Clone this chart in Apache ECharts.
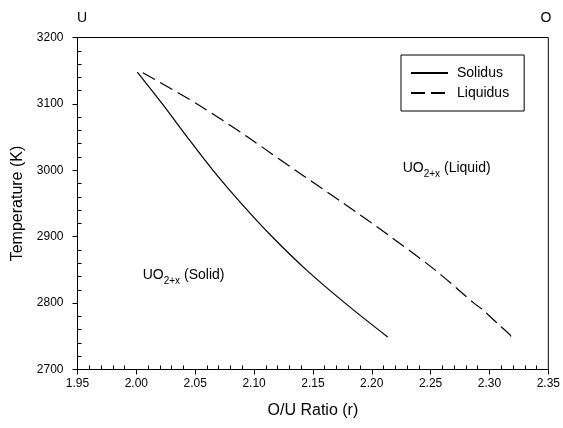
<!DOCTYPE html>
<html>
<head>
<meta charset="utf-8">
<script src="https://cdn.jsdelivr.net/npm/echarts@6/dist/echarts.min.js"></script>
<style>
  html, body { margin: 0; padding: 0; background: #fff; }
  #chart { width: 563px; height: 428px; }
</style>
</head>
<body>
<div id="chart"></div>
<script>
// O/U ratio vs temperature
const solidusR = [2.0008, 2.0221, 2.0432, 2.0651, 2.0887, 2.1148, 2.1444, 2.1773, 2.2135];
const solidusT = [3148, 3100, 3050, 3000, 2951, 2901, 2850, 2800, 2749];

const liquidusR = [2.0055, 2.0516, 2.0946, 2.1351, 2.1755, 2.2152, 2.2537, 2.2868, 2.2936, 2.3088, 2.3175, 2.3189];
const liquidusT = [3147, 3100, 3050, 3000, 2951, 2901, 2850, 2800, 2791, 2766, 2752, 2744];

const xTicks = { min: 1.95, max: 2.35, step: 0.05 };
const yTicks = { min: 2700, max: 3200, step: 100 };

const font = 'Liberation Sans, Arial, sans-serif';

const chart = echarts.init(document.getElementById('chart'));

const axisCommon = {
  axisLine: { show: true, lineStyle: { color: '#000', width: 1 } },
  axisTick: { show: true, inside: false, length: 5, lineStyle: { color: '#000' } },
  minorTick: { show: true, splitNumber: 5, length: -4, lineStyle: { color: '#000' } },
  splitLine: { show: false },
  axisLabel: { color: '#000', fontSize: 12, fontFamily: font },
  nameTextStyle: { color: '#000', fontSize: 16, fontFamily: font },
};

const subLabel = (x, y, tail) => ({
  type: 'text', x, y,
  style: {
    text: '{m|UO}{s|2+x}{m|' + tail + '}',
    align: 'left', verticalAlign: 'middle', fill: '#000',
    rich: {
      m: { fontSize: 14, fontFamily: font, fill: '#000' },
      s: { fontSize: 10, fontFamily: font, fill: '#000', padding: [12, 0, 0, 0] },
    },
  },
});

const option = {
  animation: false,
  backgroundColor: '#fff',
  grid: {
    left: 77.5,
    right: 11.5,
    top: 37.5,
    bottom: 58.5,
    show: true,
    borderColor: '#000',
    borderWidth: 1,
  },
  legend: {
    orient: 'vertical',
    left: 401,
    top: 55,
    padding: [11, 15, 11, 9],
    borderColor: '#000',
    borderWidth: 1,
    itemWidth: 37,
    itemHeight: 14,
    itemGap: 6,
    itemStyle: { opacity: 0 },
    textStyle: { color: '#000', fontSize: 14, fontFamily: font, padding: [0, 0, 0, 4] },
    data: ['Solidus', 'Liquidus'],
  },
  xAxis: {
    ...axisCommon,
    type: 'value',
    min: xTicks.min,
    max: xTicks.max,
    interval: xTicks.step,
    name: 'O/U Ratio (r)',
    nameLocation: 'middle',
    nameGap: 33,
    axisLabel: { ...axisCommon.axisLabel, margin: 8, formatter: (v) => v.toFixed(2) },
  },
  yAxis: {
    ...axisCommon,
    type: 'value',
    min: yTicks.min,
    max: yTicks.max,
    interval: yTicks.step,
    name: 'Temperature (K)',
    nameLocation: 'middle',
    nameGap: 51,
    axisLabel: { ...axisCommon.axisLabel, margin: 14, formatter: (v) => String(v) },
  },
  graphic: [
    {
      type: 'text', x: 82, y: 18,
      style: { text: 'U', fontSize: 14, fontFamily: font, fill: '#000', align: 'center', verticalAlign: 'middle' },
    },
    {
      type: 'text', x: 546, y: 18,
      style: { text: 'O', fontSize: 14, fontFamily: font, fill: '#000', align: 'center', verticalAlign: 'middle' },
    },
    subLabel(142.7, 275, ' (Solid)'),
    subLabel(402.7, 168, ' (Liquid)'),
  ],
  series: [
    {
      name: 'Solidus',
      type: 'line',
      symbol: 'none',
      smooth: 0.3,
      data: solidusR.map((r, i) => [r, solidusT[i]]),
      lineStyle: { color: '#000', width: 1.2, type: 'solid' },
      itemStyle: { color: '#000' },
    },
    {
      name: 'Liquidus',
      type: 'line',
      symbol: 'none',
      smooth: 0.3,
      data: liquidusR.map((r, i) => [r, liquidusT[i]]),
      lineStyle: { color: '#000', width: 1.2, type: [14, 6] },
      itemStyle: { color: '#000' },
    },
  ],
};

chart.setOption(option);
</script>
</body>
</html>
